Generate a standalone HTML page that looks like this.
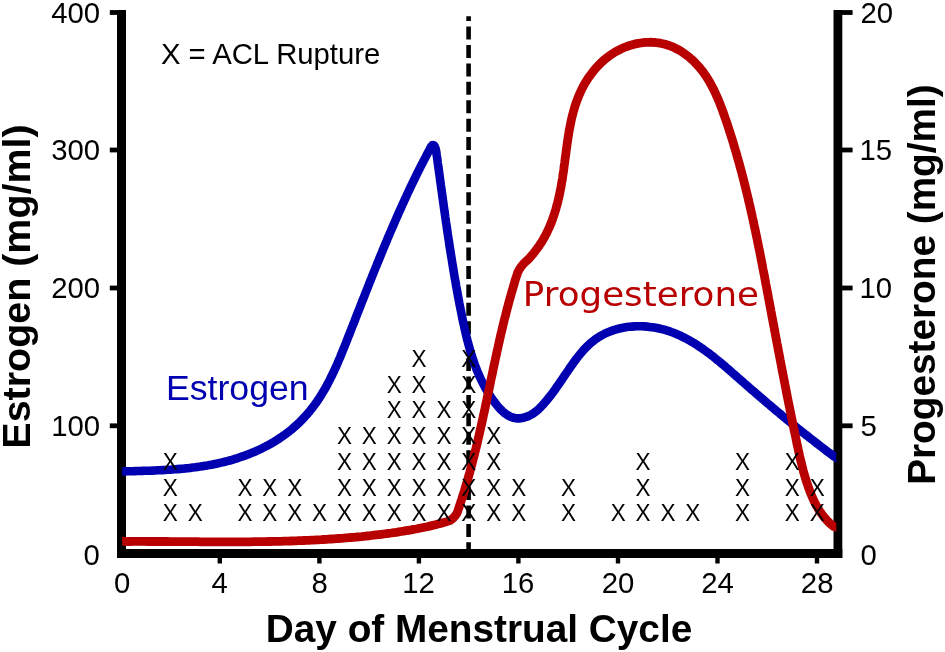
<!DOCTYPE html>
<html lang="en"><head><meta charset="utf-8"><title>Hormone levels and ACL rupture by day of menstrual cycle</title>
<style>html,body{margin:0;padding:0;background:#fff;overflow:hidden}svg{display:block}text{font-family:"Liberation Sans",Arial,Helvetica,sans-serif;fill:#000}.b{font-weight:bold}.dv{font-family:"DejaVu Sans","Liberation Sans",sans-serif}</style></head><body>
<svg width="945" height="652" viewBox="0 0 945 652">
<rect width="945" height="652" fill="#fff"/>
<g fill="#000">
<rect x="117" y="10" width="9" height="548"/>
<rect x="833.5" y="10" width="8.8" height="548"/>
<rect x="117" y="549" width="725.3" height="9"/>
<rect x="109.8" y="10.1" width="8" height="4.8"/>
<rect x="841" y="10.1" width="11.6" height="4.8"/>
<rect x="109.8" y="147.6" width="8" height="4.8"/>
<rect x="841" y="147.6" width="11.6" height="4.8"/>
<rect x="109.8" y="285.6" width="8" height="4.8"/>
<rect x="841" y="285.6" width="11.6" height="4.8"/>
<rect x="109.8" y="423.4" width="8" height="4.8"/>
<rect x="841" y="423.4" width="11.6" height="4.8"/>
<rect x="217.6" y="557" width="4.4" height="6.5"/>
<rect x="317.2" y="557" width="4.4" height="6.5"/>
<rect x="416.7" y="557" width="4.4" height="6.5"/>
<rect x="516.2" y="557" width="4.4" height="6.5"/>
<rect x="615.8" y="557" width="4.4" height="6.5"/>
<rect x="715.3" y="557" width="4.4" height="6.5"/>
<rect x="814.8" y="557" width="4.4" height="6.5"/>
</g>
<line x1="468.6" y1="555.3" x2="468.6" y2="16.3" stroke="#000" stroke-width="4.6" stroke-dasharray="13 5.42"/>
<clipPath id="cp"><rect x="122.2" y="0" width="714.1" height="652"/></clipPath>
<path clip-path="url(#cp)" d="M116.5,471.7 122.5,471.5 125.1,471.4 127.6,471.3 130.0,471.2 132.5,471.2 135.0,471.1 137.5,471.0 140.0,471.0 142.5,470.9 145.0,470.8 147.5,470.7 150.0,470.7 152.5,470.6 155.0,470.5 157.5,470.3 160.0,470.2 162.5,470.1 165.0,470.0 167.5,469.8 170.0,469.7 172.5,469.5 175.1,469.3 177.6,469.1 180.1,468.9 182.6,468.7 185.1,468.4 187.6,468.2 190.1,467.9 192.6,467.6 195.1,467.3 197.6,466.9 200.1,466.6 202.6,466.2 205.1,465.8 207.5,465.4 210.0,464.9 212.5,464.5 215.0,464.0 217.4,463.5 219.9,462.9 222.3,462.3 224.8,461.7 227.2,461.1 229.7,460.5 232.1,459.8 234.5,459.0 236.9,458.3 239.3,457.5 241.7,456.7 244.1,455.9 246.5,455.0 248.9,454.1 251.2,453.1 253.5,452.2 255.9,451.2 258.2,450.1 260.5,449.1 262.7,448.0 265.0,446.8 267.2,445.7 269.4,444.5 271.6,443.2 273.8,442.0 275.9,440.7 278.0,439.3 280.1,437.9 282.2,436.5 284.2,435.1 286.2,433.6 288.2,432.1 290.2,430.5 292.1,429.0 294.0,427.3 295.8,425.7 297.7,424.0 299.5,422.3 301.2,420.6 302.9,418.8 304.6,417.0 306.3,415.1 307.9,413.3 309.5,411.4 311.1,409.4 312.6,407.5 314.1,405.5 315.6,403.5 317.0,401.5 318.4,399.4 319.8,397.3 321.1,395.2 322.4,393.1 323.7,390.9 325.0,388.8 326.2,386.6 327.4,384.4 328.5,382.2 329.7,380.0 330.8,377.7 331.9,375.5 333.0,373.2 334.1,370.9 335.1,368.7 336.2,366.4 337.2,364.1 338.2,361.7 339.2,359.4 340.2,357.1 341.1,354.8 342.1,352.4 343.0,350.1 344.0,347.8 344.9,345.4 345.9,343.1 346.8,340.7 347.7,338.4 348.6,336.0 349.6,333.7 350.5,331.3 351.4,329.0 352.3,326.6 353.3,324.3 354.2,321.9 355.1,319.6 356.0,317.2 356.9,314.9 357.8,312.5 358.8,310.2 359.7,307.9 360.6,305.5 361.5,303.2 362.4,300.8 363.4,298.5 364.3,296.2 365.2,293.8 366.1,291.5 367.1,289.1 368.0,286.8 368.9,284.5 369.8,282.1 370.8,279.8 371.7,277.5 372.6,275.1 373.6,272.8 374.5,270.5 375.4,268.2 376.4,265.8 377.3,263.5 378.3,261.2 379.2,258.9 380.2,256.5 381.1,254.2 382.1,251.9 383.0,249.6 384.0,247.3 384.9,245.0 385.9,242.7 386.9,240.3 387.8,238.0 388.8,235.7 389.8,233.4 390.8,231.1 391.8,228.8 392.8,226.5 393.8,224.2 394.8,221.9 395.8,219.6 396.8,217.3 397.8,215.0 398.8,212.7 399.8,210.5 400.9,208.2 401.9,205.9 402.9,203.6 404.0,201.3 405.0,199.0 406.1,196.8 407.1,194.5 408.2,192.2 409.3,190.0 410.3,187.7 411.4,185.4 412.5,183.2 413.6,180.9 414.7,178.6 415.8,176.4 416.9,174.1 418.0,171.9 419.2,169.6 420.3,167.4 421.4,165.2 422.6,162.9 423.7,160.7 424.9,158.4 426.1,156.2 427.2,154.0 428.4,151.7 429.6,149.5 430.6,147.5 431.5,146.1 432.4,145.3 433.3,145.1 434.0,145.5 434.7,146.4 435.4,148.0 436.0,150.1 436.4,152.6 436.7,155.1 437.1,157.6 437.4,160.1 437.7,162.6 438.1,165.1 438.4,167.5 438.8,170.0 439.1,172.5 439.5,175.0 439.8,177.5 440.1,180.0 440.5,182.5 440.8,184.9 441.2,187.4 441.5,189.9 441.9,192.4 442.2,194.9 442.5,197.3 442.9,199.8 443.2,202.3 443.6,204.8 443.9,207.2 444.3,209.7 444.6,212.2 445.0,214.7 445.3,217.1 445.7,219.6 446.0,222.1 446.4,224.6 446.8,227.0 447.1,229.5 447.5,232.0 447.8,234.4 448.2,236.9 448.6,239.4 449.0,241.8 449.3,244.3 449.7,246.8 450.1,249.3 450.5,251.7 450.9,254.2 451.3,256.7 451.7,259.1 452.1,261.6 452.5,264.1 452.9,266.5 453.3,269.0 453.7,271.5 454.1,273.9 454.5,276.4 454.9,278.9 455.4,281.3 455.8,283.8 456.2,286.3 456.7,288.7 457.1,291.2 457.6,293.7 458.0,296.1 458.5,298.6 459.0,301.1 459.4,303.5 459.9,306.0 460.4,308.5 460.9,310.9 461.4,313.4 461.9,315.9 462.4,318.3 462.9,320.8 463.4,323.3 464.0,325.7 464.5,328.2 465.1,330.7 465.6,333.1 466.2,335.6 466.8,338.0 467.4,340.4 468.1,342.9 468.7,345.3 469.4,347.7 470.1,350.1 470.8,352.5 471.5,354.9 472.3,357.3 473.1,359.7 473.9,362.1 474.7,364.4 475.6,366.8 476.5,369.1 477.4,371.4 478.4,373.7 479.4,376.0 480.4,378.2 481.5,380.5 482.6,382.7 483.8,384.9 484.9,387.1 486.2,389.3 487.4,391.5 488.7,393.6 490.1,395.8 491.5,397.9 492.9,399.9 494.4,402.0 496.0,404.0 497.5,406.0 499.2,407.9 500.9,409.7 502.7,411.4 504.5,413.0 506.4,414.4 508.4,415.7 510.4,416.7 512.6,417.5 514.8,418.1 517.1,418.4 519.4,418.4 521.9,418.1 524.3,417.5 526.8,416.7 529.2,415.7 531.5,414.5 533.7,413.1 535.8,411.5 537.9,409.8 539.8,408.0 541.6,406.1 543.4,404.2 545.1,402.2 546.8,400.3 548.4,398.3 550.0,396.3 551.5,394.3 553.0,392.4 554.5,390.4 555.9,388.3 557.3,386.3 558.7,384.3 560.1,382.3 561.5,380.3 562.9,378.2 564.2,376.2 565.6,374.1 567.0,372.1 568.4,370.1 569.8,368.0 571.2,366.0 572.6,364.0 574.1,361.9 575.6,359.9 577.1,357.9 578.7,355.9 580.3,353.9 581.9,352.0 583.6,350.0 585.3,348.2 587.1,346.4 589.0,344.6 590.8,342.9 592.8,341.3 594.7,339.8 596.8,338.3 598.8,337.0 601.0,335.7 603.2,334.5 605.4,333.4 607.6,332.4 609.9,331.5 612.3,330.6 614.6,329.8 617.0,329.1 619.4,328.5 621.9,328.0 624.3,327.5 626.8,327.1 629.3,326.8 631.8,326.6 634.3,326.4 636.8,326.3 639.3,326.3 641.9,326.3 644.4,326.4 646.9,326.6 649.4,326.9 651.9,327.2 654.4,327.6 656.9,328.0 659.3,328.5 661.7,329.1 664.1,329.7 666.5,330.4 668.9,331.1 671.2,332.0 673.5,332.8 675.8,333.7 678.1,334.7 680.3,335.7 682.5,336.8 684.7,337.9 686.9,339.0 689.1,340.2 691.2,341.5 693.4,342.7 695.5,344.0 697.6,345.4 699.7,346.8 701.7,348.2 703.8,349.6 705.8,351.1 707.8,352.6 709.9,354.1 711.9,355.6 713.9,357.2 715.8,358.8 717.8,360.4 719.8,362.0 721.7,363.6 723.7,365.3 725.6,366.9 727.5,368.6 729.5,370.2 731.4,371.9 733.3,373.6 735.2,375.3 737.1,376.9 739.0,378.6 740.9,380.3 742.8,381.9 744.7,383.6 746.6,385.3 748.5,386.9 750.4,388.6 752.3,390.2 754.2,391.8 756.1,393.5 758.0,395.1 759.9,396.7 761.8,398.4 763.7,400.0 765.6,401.6 767.4,403.2 769.3,404.8 771.2,406.4 773.1,408.0 775.0,409.6 776.9,411.2 778.8,412.8 780.7,414.4 782.6,416.0 784.6,417.6 786.5,419.1 788.4,420.7 790.3,422.3 792.2,423.9 794.2,425.4 796.1,427.0 798.0,428.5 800.0,430.1 801.9,431.7 803.9,433.2 805.8,434.8 807.8,436.3 809.7,437.9 811.7,439.4 813.7,440.9 815.7,442.5 817.7,444.0 819.7,445.6 821.7,447.1 823.7,448.6 825.7,450.2 827.7,451.7 829.8,453.2 831.8,454.7 833.8,456.3 836.0,457.4 841.0,460.7" fill="none" stroke="#0000b0" stroke-width="8.6" stroke-linejoin="round"/>
<path clip-path="url(#cp)" d="M116.5,540.8 122.5,541.1 125.1,541.5 127.6,541.5 130.1,541.5 132.6,541.4 135.1,541.4 137.6,541.4 140.1,541.4 142.6,541.4 145.1,541.4 147.6,541.5 150.1,541.5 152.6,541.5 155.1,541.5 157.6,541.5 160.1,541.5 162.6,541.5 165.1,541.5 167.6,541.5 170.1,541.6 172.6,541.6 175.2,541.6 177.7,541.6 180.2,541.6 182.7,541.6 185.2,541.7 187.7,541.7 190.2,541.7 192.8,541.7 195.3,541.7 197.8,541.7 200.3,541.8 202.8,541.8 205.3,541.8 207.9,541.8 210.4,541.8 212.9,541.8 215.4,541.8 217.9,541.8 220.5,541.8 223.0,541.8 225.5,541.9 228.0,541.9 230.5,541.9 233.1,541.9 235.6,541.8 238.1,541.8 240.6,541.8 243.1,541.8 245.7,541.8 248.2,541.8 250.7,541.8 253.2,541.7 255.8,541.7 258.3,541.7 260.8,541.7 263.3,541.6 265.8,541.6 268.4,541.5 270.9,541.5 273.4,541.4 275.9,541.4 278.4,541.3 281.0,541.3 283.5,541.2 286.0,541.1 288.5,541.1 291.0,541.0 293.6,540.9 296.1,540.8 298.6,540.7 301.1,540.6 303.6,540.5 306.2,540.4 308.7,540.3 311.2,540.2 313.7,540.1 316.2,539.9 318.7,539.8 321.2,539.7 323.7,539.5 326.3,539.4 328.8,539.2 331.3,539.0 333.8,538.9 336.3,538.7 338.8,538.5 341.3,538.3 343.8,538.1 346.3,537.9 348.8,537.7 351.3,537.5 353.8,537.3 356.3,537.0 358.8,536.8 361.3,536.6 363.8,536.3 366.3,536.0 368.8,535.8 371.3,535.5 373.8,535.2 376.3,534.9 378.8,534.6 381.3,534.3 383.8,534.0 386.3,533.7 388.7,533.3 391.2,533.0 393.7,532.6 396.2,532.3 398.7,531.9 401.1,531.5 403.6,531.1 406.1,530.7 408.6,530.3 411.0,529.9 413.5,529.4 416.0,529.0 418.4,528.5 420.9,528.0 423.3,527.5 425.8,527.0 428.2,526.5 430.7,525.9 433.1,525.3 435.5,524.7 437.9,524.1 440.4,523.5 442.8,522.8 445.2,522.1 447.6,521.4 450.0,520.6 451.0,519.9 452.0,519.1 452.9,518.3 453.8,517.5 454.6,516.5 455.4,515.6 456.1,514.6 456.8,513.6 457.7,511.2 458.5,508.8 459.3,506.5 460.1,504.1 460.9,501.7 461.7,499.3 462.4,496.9 463.2,494.5 464.0,492.1 464.7,489.7 465.4,487.3 466.1,484.9 466.9,482.5 467.6,480.1 468.2,477.7 468.9,475.3 469.6,472.9 470.3,470.4 470.9,468.0 471.6,465.6 472.2,463.2 472.8,460.7 473.5,458.3 474.1,455.9 474.7,453.4 475.3,451.0 475.9,448.6 476.5,446.1 477.1,443.7 477.7,441.2 478.2,438.8 478.8,436.3 479.4,433.9 479.9,431.4 480.5,429.0 481.0,426.5 481.6,424.1 482.1,421.6 482.7,419.1 483.2,416.7 483.7,414.2 484.3,411.8 484.8,409.3 485.3,406.8 485.8,404.4 486.4,401.9 486.9,399.4 487.4,397.0 487.9,394.5 488.4,392.1 489.0,389.6 489.5,387.1 490.0,384.7 490.5,382.2 491.0,379.7 491.5,377.3 492.1,374.8 492.6,372.3 493.1,369.9 493.6,367.4 494.1,364.9 494.7,362.5 495.2,360.0 495.7,357.5 496.3,355.1 496.8,352.6 497.3,350.2 497.9,347.7 498.4,345.3 499.0,342.8 499.5,340.3 500.1,337.9 500.6,335.4 501.2,333.0 501.8,330.5 502.4,328.1 503.0,325.6 503.5,323.2 504.1,320.8 504.7,318.3 505.4,315.9 506.0,313.5 506.6,311.0 507.2,308.6 507.9,306.2 508.5,303.7 509.2,301.3 509.8,298.9 510.5,296.5 511.2,294.0 511.9,291.6 512.6,289.2 513.3,286.8 514.0,284.4 514.7,282.0 515.4,279.6 516.2,277.2 517.0,274.8 517.7,272.4 518.6,270.8 519.5,269.1 520.5,267.6 521.6,266.1 522.7,264.7 524.0,263.3 525.3,262.1 526.7,260.8 528.6,259.0 530.3,257.1 532.0,255.1 533.7,253.2 535.2,251.2 536.7,249.2 538.2,247.2 539.6,245.1 541.0,243.1 542.3,241.0 543.5,238.8 544.7,236.7 545.9,234.5 547.0,232.3 548.0,230.1 549.1,227.9 550.0,225.6 551.0,223.4 551.9,221.1 552.7,218.8 553.5,216.5 554.3,214.1 555.0,211.8 555.8,209.4 556.4,207.0 557.1,204.6 557.7,202.2 558.3,199.8 558.9,197.4 559.4,194.9 559.9,192.5 560.4,190.0 560.9,187.6 561.3,185.1 561.7,182.6 562.2,180.1 562.6,177.6 562.9,175.1 563.3,172.6 563.7,170.1 564.0,167.6 564.3,165.1 564.7,162.6 565.0,160.1 565.3,157.5 565.7,155.0 566.0,152.5 566.3,150.0 566.7,147.5 567.0,145.0 567.4,142.5 567.7,140.0 568.1,137.5 568.5,135.0 568.9,132.5 569.3,130.0 569.8,127.6 570.3,125.1 570.8,122.7 571.3,120.2 571.8,117.8 572.4,115.4 573.1,113.0 573.7,110.6 574.4,108.2 575.1,105.8 575.9,103.5 576.7,101.2 577.6,98.9 578.5,96.6 579.5,94.3 580.5,92.0 581.5,89.8 582.6,87.6 583.8,85.4 585.0,83.2 586.3,81.1 587.7,78.9 589.1,76.8 590.6,74.8 592.1,72.8 593.6,70.8 595.3,68.8 597.0,66.9 598.7,65.1 600.5,63.3 602.3,61.6 604.2,59.9 606.2,58.3 608.2,56.7 610.2,55.2 612.3,53.8 614.5,52.4 616.7,51.2 619.0,50.0 621.3,48.8 623.6,47.8 626.0,46.8 628.4,46.0 630.8,45.2 633.2,44.5 635.7,43.9 638.2,43.4 640.7,43.0 643.1,42.6 645.6,42.4 648.1,42.3 650.6,42.2 653.1,42.3 655.5,42.5 657.9,42.8 660.4,43.2 662.7,43.7 665.1,44.3 667.4,45.0 669.7,45.7 671.9,46.6 674.1,47.6 676.3,48.7 678.5,49.8 680.6,51.1 682.6,52.4 684.6,53.7 686.6,55.2 688.6,56.7 690.4,58.3 692.3,59.9 694.1,61.6 695.8,63.4 697.5,65.2 699.2,67.1 700.7,69.0 702.3,70.9 703.8,72.9 705.2,74.9 706.6,77.0 707.9,79.1 709.2,81.2 710.4,83.4 711.6,85.6 712.8,87.8 713.9,90.0 715.0,92.3 716.0,94.6 717.1,96.9 718.1,99.2 719.0,101.5 720.0,103.9 720.9,106.3 721.8,108.6 722.7,111.0 723.5,113.4 724.4,115.8 725.2,118.2 726.1,120.6 726.9,123.0 727.7,125.5 728.5,127.9 729.3,130.3 730.0,132.7 730.8,135.1 731.6,137.5 732.3,139.9 733.1,142.3 733.8,144.8 734.5,147.2 735.2,149.6 736.0,152.0 736.7,154.4 737.3,156.9 738.0,159.3 738.7,161.7 739.4,164.1 740.0,166.6 740.7,169.0 741.4,171.4 742.0,173.8 742.6,176.3 743.3,178.7 743.9,181.1 744.5,183.6 745.1,186.0 745.7,188.4 746.3,190.9 746.9,193.3 747.5,195.7 748.1,198.2 748.6,200.6 749.2,203.0 749.8,205.5 750.3,207.9 750.9,210.3 751.4,212.8 752.0,215.2 752.5,217.7 753.1,220.1 753.6,222.5 754.1,225.0 754.6,227.4 755.2,229.9 755.7,232.3 756.2,234.8 756.7,237.2 757.2,239.6 757.7,242.1 758.2,244.5 758.7,247.0 759.2,249.4 759.7,251.9 760.2,254.3 760.7,256.8 761.1,259.2 761.6,261.7 762.1,264.1 762.6,266.6 763.0,269.0 763.5,271.5 764.0,273.9 764.5,276.4 764.9,278.9 765.4,281.3 765.8,283.8 766.3,286.2 766.8,288.7 767.2,291.1 767.7,293.6 768.2,296.0 768.6,298.5 769.1,301.0 769.5,303.4 770.0,305.9 770.5,308.3 770.9,310.8 771.4,313.2 771.8,315.7 772.3,318.2 772.8,320.6 773.2,323.1 773.7,325.5 774.2,328.0 774.6,330.5 775.1,332.9 775.5,335.4 776.0,337.9 776.5,340.3 776.9,342.8 777.4,345.2 777.9,347.7 778.3,350.2 778.8,352.6 779.3,355.1 779.8,357.6 780.2,360.0 780.7,362.5 781.2,365.0 781.6,367.4 782.1,369.9 782.6,372.4 783.1,374.8 783.6,377.3 784.0,379.7 784.5,382.2 785.0,384.7 785.5,387.1 786.0,389.6 786.4,392.1 786.9,394.5 787.4,397.0 787.9,399.5 788.4,402.0 788.9,404.4 789.4,406.9 789.9,409.4 790.4,411.8 790.9,414.3 791.4,416.8 791.9,419.2 792.4,421.7 792.9,424.2 793.4,426.6 793.9,429.1 794.4,431.6 795.0,434.0 795.5,436.5 796.0,439.0 796.5,441.4 797.0,443.9 797.6,446.4 798.1,448.9 798.6,451.3 799.2,453.8 799.7,456.2 800.3,458.7 800.9,461.1 801.5,463.6 802.1,466.0 802.7,468.5 803.3,470.9 804.0,473.3 804.7,475.7 805.4,478.1 806.1,480.5 806.9,482.8 807.7,485.2 808.5,487.6 809.4,489.9 810.2,492.2 811.2,494.5 812.1,496.8 813.1,499.0 814.2,501.3 815.3,503.5 816.4,505.7 817.7,507.8 818.9,509.9 820.3,511.9 821.7,514.0 823.1,515.9 824.7,517.8 826.3,519.7 828.0,521.5 829.8,523.2 831.7,524.9 833.7,526.5 836.4,527.0 841.6,530.0" fill="none" stroke="#b80000" stroke-width="8.8" stroke-linejoin="round"/>
<g font-size="23.7">
<text transform="translate(162.77 521.25) scale(0.9500 1)">X</text>
<text transform="translate(162.77 496.05) scale(0.9500 1)">X</text>
<text transform="translate(162.77 469.85) scale(0.9500 1)">X</text>
<text transform="translate(187.65 521.25) scale(0.9500 1)">X</text>
<text transform="translate(237.41 521.25) scale(0.9500 1)">X</text>
<text transform="translate(237.41 496.05) scale(0.9500 1)">X</text>
<text transform="translate(262.30 521.25) scale(0.9500 1)">X</text>
<text transform="translate(262.30 496.05) scale(0.9500 1)">X</text>
<text transform="translate(287.18 521.25) scale(0.9500 1)">X</text>
<text transform="translate(287.18 496.05) scale(0.9500 1)">X</text>
<text transform="translate(312.06 521.25) scale(0.9500 1)">X</text>
<text transform="translate(336.95 521.25) scale(0.9500 1)">X</text>
<text transform="translate(336.95 496.05) scale(0.9500 1)">X</text>
<text transform="translate(336.95 469.85) scale(0.9500 1)">X</text>
<text transform="translate(336.95 444.05) scale(0.9500 1)">X</text>
<text transform="translate(361.83 521.25) scale(0.9500 1)">X</text>
<text transform="translate(361.83 496.05) scale(0.9500 1)">X</text>
<text transform="translate(361.83 469.85) scale(0.9500 1)">X</text>
<text transform="translate(361.83 444.05) scale(0.9500 1)">X</text>
<text transform="translate(386.71 521.25) scale(0.9500 1)">X</text>
<text transform="translate(386.71 496.05) scale(0.9500 1)">X</text>
<text transform="translate(386.71 469.85) scale(0.9500 1)">X</text>
<text transform="translate(386.71 444.05) scale(0.9500 1)">X</text>
<text transform="translate(386.71 418.15) scale(0.9500 1)">X</text>
<text transform="translate(386.71 392.75) scale(0.9500 1)">X</text>
<text transform="translate(411.60 521.25) scale(0.9500 1)">X</text>
<text transform="translate(411.60 496.05) scale(0.9500 1)">X</text>
<text transform="translate(411.60 469.85) scale(0.9500 1)">X</text>
<text transform="translate(411.60 444.05) scale(0.9500 1)">X</text>
<text transform="translate(411.60 418.15) scale(0.9500 1)">X</text>
<text transform="translate(411.60 392.75) scale(0.9500 1)">X</text>
<text transform="translate(411.60 366.85) scale(0.9500 1)">X</text>
<text transform="translate(436.48 521.25) scale(0.9500 1)">X</text>
<text transform="translate(436.48 496.05) scale(0.9500 1)">X</text>
<text transform="translate(436.48 469.85) scale(0.9500 1)">X</text>
<text transform="translate(436.48 444.05) scale(0.9500 1)">X</text>
<text transform="translate(436.48 418.15) scale(0.9500 1)">X</text>
<text transform="translate(461.36 521.25) scale(0.9500 1)">X</text>
<text transform="translate(461.36 496.05) scale(0.9500 1)">X</text>
<text transform="translate(461.36 469.85) scale(0.9500 1)">X</text>
<text transform="translate(461.36 444.05) scale(0.9500 1)">X</text>
<text transform="translate(461.36 418.15) scale(0.9500 1)">X</text>
<text transform="translate(461.36 392.75) scale(0.9500 1)">X</text>
<text transform="translate(461.36 366.85) scale(0.9500 1)">X</text>
<text transform="translate(486.25 521.25) scale(0.9500 1)">X</text>
<text transform="translate(486.25 496.05) scale(0.9500 1)">X</text>
<text transform="translate(486.25 469.85) scale(0.9500 1)">X</text>
<text transform="translate(486.25 444.05) scale(0.9500 1)">X</text>
<text transform="translate(511.13 521.25) scale(0.9500 1)">X</text>
<text transform="translate(511.13 496.05) scale(0.9500 1)">X</text>
<text transform="translate(560.89 521.25) scale(0.9500 1)">X</text>
<text transform="translate(560.89 496.05) scale(0.9500 1)">X</text>
<text transform="translate(610.66 521.25) scale(0.9500 1)">X</text>
<text transform="translate(635.54 521.25) scale(0.9500 1)">X</text>
<text transform="translate(635.54 496.05) scale(0.9500 1)">X</text>
<text transform="translate(635.54 469.85) scale(0.9500 1)">X</text>
<text transform="translate(660.43 521.25) scale(0.9500 1)">X</text>
<text transform="translate(685.31 521.25) scale(0.9500 1)">X</text>
<text transform="translate(735.07 521.25) scale(0.9500 1)">X</text>
<text transform="translate(735.07 496.05) scale(0.9500 1)">X</text>
<text transform="translate(735.07 469.85) scale(0.9500 1)">X</text>
<text transform="translate(784.84 521.25) scale(0.9500 1)">X</text>
<text transform="translate(784.84 496.05) scale(0.9500 1)">X</text>
<text transform="translate(784.84 469.85) scale(0.9500 1)">X</text>
<text transform="translate(809.72 521.25) scale(0.9500 1)">X</text>
<text transform="translate(809.72 496.05) scale(0.9500 1)">X</text>
</g>
<text font-size="29.9" transform="translate(51.28 22.80) scale(0.9800 1)">400</text>
<text font-size="29.9" transform="translate(51.28 160.30) scale(0.9800 1)">300</text>
<text font-size="29.9" transform="translate(51.28 298.30) scale(0.9800 1)">200</text>
<text font-size="29.9" transform="translate(51.28 436.10) scale(0.9800 1)">100</text>
<text font-size="29.9" transform="translate(83.62 565.10) scale(0.9800 1)">0</text>
<text font-size="29.9" transform="translate(860.42 22.90) scale(0.9800 1)">20</text>
<text font-size="29.9" transform="translate(859.44 160.30) scale(0.9800 1)">15</text>
<text font-size="29.9" transform="translate(859.44 298.30) scale(0.9800 1)">10</text>
<text font-size="29.9" transform="translate(860.42 435.80) scale(0.9800 1)">5</text>
<text font-size="29.9" transform="translate(860.42 565.30) scale(0.9800 1)">0</text>
<text font-size="29.9" transform="translate(113.97 593.40) scale(0.9800 1)">0</text>
<text font-size="29.9" transform="translate(211.50 593.40) scale(0.9800 1)">4</text>
<text font-size="29.9" transform="translate(311.52 593.40) scale(0.9800 1)">8</text>
<text font-size="29.9" transform="translate(402.24 593.40) scale(0.9800 1)">12</text>
<text font-size="29.9" transform="translate(501.77 593.40) scale(0.9800 1)">16</text>
<text font-size="29.9" transform="translate(601.79 593.40) scale(0.9800 1)">20</text>
<text font-size="29.9" transform="translate(701.32 593.40) scale(0.9800 1)">24</text>
<text font-size="29.9" transform="translate(800.85 593.40) scale(0.9800 1)">28</text>
<text class="b" font-size="38.8" transform="translate(265.80 641.50) scale(0.9993 1)">Day of Menstrual Cycle</text>
<text class="b" font-size="38.9" transform="translate(30.20 448.63) rotate(-90) scale(1.0139 1)">Estrogen (mg/ml)</text>
<text class="b" font-size="38.8" transform="translate(934.50 484.80) rotate(-90) scale(0.9990 1)">Progesterone (mg/ml)</text>
<text font-size="28.9" transform="translate(160.89 63.70) scale(1.0136 1)">X = ACL Rupture</text>
<text font-size="34.9" transform="translate(165.93 400.30) scale(1.0222 1)" style="fill:#0000b0">Estrogen</text>
<text class="dv" font-size="34" transform="translate(522.85 305.50) scale(1.0500 1)" style="fill:#b80000">Progesterone</text>
</svg></body></html>
